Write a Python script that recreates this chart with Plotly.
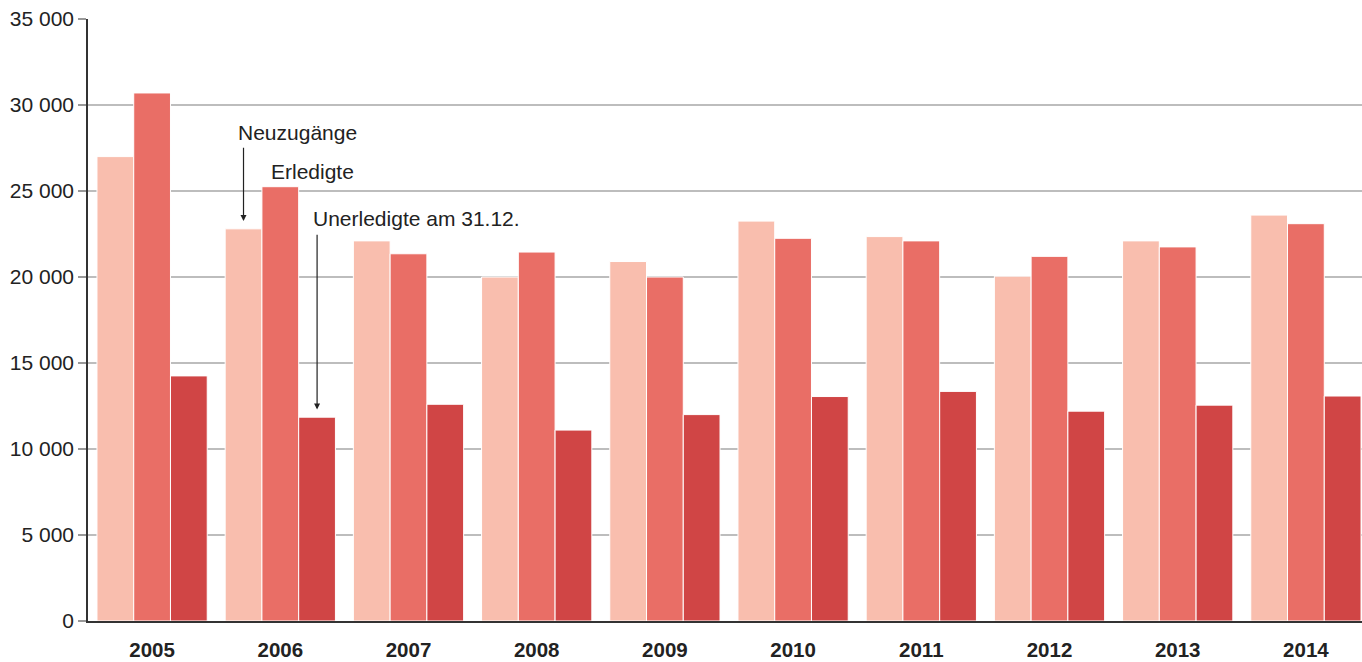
import plotly.graph_objects as go

years = ["2005", "2006", "2007", "2008", "2009", "2010", "2011", "2012", "2013", "2014"]
neuzugaenge = [27000, 22800, 22100, 20000, 20900, 23250, 22350, 20050, 22100, 23600]
erledigte = [30700, 25250, 21350, 21450, 20000, 22250, 22100, 21200, 21750, 23100]
unerledigte = [14250, 11850, 12600, 11100, 12000, 13050, 13350, 12200, 12550, 13080]

y_ticks = [0, 5000, 10000, 15000, 20000, 25000, 30000, 35000]
y_ticktext = ["0", "5 000", "10 000", "15 000", "20 000", "25 000", "30 000", "35 000"]

series_names = ["Neuzugänge", "Erledigte", "Unerledigte am 31.12."]
colors = ["#F9BEAE", "#E96E66", "#D04545"]

fig = go.Figure()
for name, vals, c in zip(series_names, [neuzugaenge, erledigte, unerledigte], colors):
    fig.add_trace(go.Bar(x=years, y=vals, name=name, marker=dict(color=c, line=dict(color="white", width=1))))

font_family = "Liberation Sans, Arial, Helvetica, sans-serif"
fs = 21

fig.update_layout(
    barmode="group",
    bargap=0.14,
    bargroupgap=0,
    showlegend=False,
    width=1370, height=662,
    margin=dict(l=88, r=0, t=19, b=41),
    plot_bgcolor="white", paper_bgcolor="white",
    font=dict(family=font_family, size=fs, color="#222222"),
)
fig.update_yaxes(
    range=[0, 35000], tickvals=y_ticks, ticktext=y_ticktext,
    showgrid=True, gridcolor="#BDBDBD", gridwidth=1.5,
    showline=True, linecolor="#333333", linewidth=1.5,
    ticks="outside", ticklen=8, tickcolor="#999999", tickwidth=1.5,
    tickfont=dict(size=fs, color="#222222"),
    zeroline=False,
)
fig.update_xaxes(
    showline=True, linecolor="#333333", linewidth=1.5,
    ticks="outside", ticklen=10, tickcolor="rgba(0,0,0,0)",
    tickfont=dict(size=20.5, color="#222222", family=font_family, weight="bold"),
    range=[-0.5, 9.5],
)

# text labels
fig.add_annotation(x=0.655, y=28400, text="Neuzugänge", showarrow=False, xanchor="left", yanchor="middle", font=dict(size=fs, color="#222222"))
fig.add_annotation(x=0.915, y=26150, text="Erledigte", showarrow=False, xanchor="left", yanchor="middle", font=dict(size=fs, color="#222222"))
fig.add_annotation(x=1.236, y=23430, text="Unerledigte am 31.12.", showarrow=False, xanchor="left", yanchor="middle", font=dict(size=fs, color="#222222"))

# arrows
fig.add_annotation(x=0.713, y=23250, ax=0.713, ay=27600, axref="x", ayref="y", xref="x", yref="y",
                   text="", showarrow=True, arrowhead=2, arrowsize=1, arrowwidth=1.2, arrowcolor="#222222")
fig.add_annotation(x=1.287, y=12300, ax=1.287, ay=22550, axref="x", ayref="y", xref="x", yref="y",
                   text="", showarrow=True, arrowhead=2, arrowsize=1, arrowwidth=1.2, arrowcolor="#222222")

fig.write_html("out.html", config={"displayModeBar": False},
               post_script="document.body.style.margin='0';document.body.style.overflow='hidden';")
